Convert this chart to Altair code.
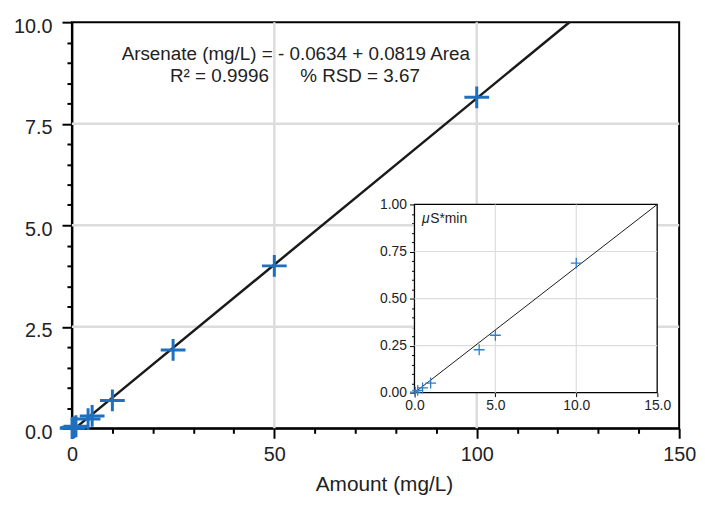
import altair as alt
import pandas as pd

# ---- data ----
amount = [0.05, 0.2, 0.5, 1.0, 4.0, 5.0, 10.0, 25.0, 50.0, 100.0]
area = [0.003, 0.012, 0.025, 0.051, 0.228, 0.305, 0.688, 1.93, 4.0, 8.15]

fit_x = [0.77, 122.9]
fit_y = [0.0, 10.0]

inset_fit_x = [0.0, 15.0]
inset_fit_y = [0.0, 1.0]

main_x_ticks = [0, 10, 20, 30, 40, 50, 60, 70, 80, 90, 100, 110, 120, 130, 140, 150]
main_y_ticks = [0.0, 0.5, 1.0, 1.5, 2.0, 2.5, 3.0, 3.5, 4.0, 4.5, 5.0, 5.5, 6.0,
                6.5, 7.0, 7.5, 8.0, 8.5, 9.0, 9.5, 10.0]
main_x_grid = [50, 100]
main_y_grid = [2.5, 5.0, 7.5]

inset_x_ticks = [0.0, 5.0, 10.0, 15.0]
inset_y_ticks = [round(i * 0.05, 2) for i in range(21)]
inset_x_grid = [5.0, 10.0]
inset_y_grid = [0.25, 0.5, 0.75]
inset_x_domain = [0.0, 15.0]
inset_y_domain = [0.0, 1.0]

eq_lines = ["Arsenate (mg/L) = - 0.0634 + 0.0819 Area",
            "R\u00b2 = 0.9996" + "\u00a0" * 6 + "% RSD = 3.67"]
eq_x = [55.3, 55.1]
eq_y = [9.066, 8.537]

FONT = "Liberation Sans"
BLUE = "#1f6fbf"

pts = pd.DataFrame({"amount": amount, "area": area})
inset_pts = pts[pts["amount"] <= 15]
fit = pd.DataFrame({"x": fit_x, "y": fit_y})
inset_fit = pd.DataFrame({"x": inset_fit_x, "y": inset_fit_y})
eq = pd.DataFrame({"x": eq_x, "y": eq_y, "t": eq_lines})

MW, MH = 613, 410
X_MAIN = alt.Scale(domain=[0, 150], nice=False, zero=False)
Y_MAIN = alt.Scale(domain=[0, 10], nice=False, zero=False)

x_axis = alt.Axis(
    values=main_x_ticks, grid=False, domainColor="black", domainWidth=2,
    tickColor="black", tickWidth=2,
    tickSize={"condition": {"test": "datum.value % 50 === 0", "value": 10}, "value": 5},
    labelExpr="datum.value % 50 === 0 ? format(datum.value, 'd') : ''",
    labelFont=FONT, labelFontSize=20, labelColor="#222", labelPadding=6,
    title="Amount (mg/L)", titleFont=FONT, titleFontSize=21, titleFontWeight="normal",
    titleColor="#222", titleX=315, titleY=46, labelFlush=False, labelOverlap=False,
)
y_axis = alt.Axis(
    values=main_y_ticks, grid=False, domainColor="black", domainWidth=2,
    tickColor="black", tickWidth=2,
    tickSize={"condition": {"test": "datum.value % 2.5 === 0", "value": 10}, "value": 5},
    labelExpr="datum.value % 2.5 === 0 ? format(datum.value, '.1f') : ''",
    labelFont=FONT, labelFontSize=20, labelColor="#222", labelPadding=10,
    labelOffset=4, title=None, labelFlush=False, labelOverlap=False,
)

base_x = alt.X("x:Q", scale=X_MAIN, axis=x_axis)
base_y = alt.Y("y:Q", scale=Y_MAIN, axis=y_axis)

vgrid = alt.Chart(pd.DataFrame({"x": main_x_grid})).mark_rule(
    color="#dcdcdc", strokeWidth=2.5).encode(x=alt.X("x:Q", scale=X_MAIN, axis=x_axis))
hgrid = alt.Chart(pd.DataFrame({"y": main_y_grid})).mark_rule(
    color="#dcdcdc", strokeWidth=2.5).encode(y=alt.Y("y:Q", scale=Y_MAIN, axis=y_axis))

fit_line = alt.Chart(fit).mark_line(color="#1a1a1a", strokeWidth=2.5).encode(
    x=base_x, y=base_y)

cross_main = "M-1,0H1M0,-0.88V0.88"
main_points = alt.Chart(pts).mark_point(
    shape=cross_main, size=625, filled=False, stroke=BLUE, strokeWidth=3, opacity=1
).encode(x=alt.X("amount:Q", scale=X_MAIN, axis=x_axis),
         y=alt.Y("area:Q", scale=Y_MAIN, axis=y_axis))

eq_text = alt.Chart(eq).mark_text(
    font=FONT, fontSize=19, color="#222", align="center", baseline="alphabetic"
).encode(x=base_x, y=base_y, text="t:N")

main = alt.layer(vgrid, hgrid, fit_line, main_points, eq_text)

# ---- inset, drawn with its own scales placed inside the main plot ----
X_IN = alt.Scale(domain=inset_x_domain, range=[345.8, 590.8], nice=False, zero=False)
Y_IN = alt.Scale(domain=inset_y_domain, range=[374, 184], nice=False, zero=False)

ix_axis = alt.Axis(
    orient="bottom", offset=-36, values=inset_x_ticks, grid=False, domain=False,
    tickColor="black", tickWidth=1, tickSize=4, format=".1f",
    labelFont=FONT, labelFontSize=14, labelColor="#222", labelPadding=2,
    title=None, labelFlush=False, labelOverlap=False,
)
iy_axis = alt.Axis(
    orient="left", offset=-345.8, values=inset_y_ticks, grid=False, domain=False,
    tickColor="black", tickWidth=1,
    tickSize={"condition": {"test": "abs(datum.value * 4 - round(datum.value * 4)) < 0.001",
                            "value": 5}, "value": 3},
    labelExpr="abs(datum.value * 4 - round(datum.value * 4)) < 0.001 ? format(datum.value, '.2f') : ''",
    labelFont=FONT, labelFontSize=14, labelColor="#222", labelPadding=3,
    title=None, labelFlush=False, labelOverlap=False,
)

frame_df = pd.DataFrame({"x": [inset_x_domain[0]], "x2": [inset_x_domain[1]],
                         "y": [inset_y_domain[0]], "y2": [inset_y_domain[1]]})
inset_bg = alt.Chart(frame_df).mark_rect(
    fill="white", stroke="black", strokeWidth=1.3
).encode(x=alt.X("x:Q", scale=X_IN, axis=ix_axis), x2="x2:Q",
         y=alt.Y("y:Q", scale=Y_IN, axis=iy_axis), y2="y2:Q")

ivgrid = alt.Chart(pd.DataFrame({"x": inset_x_grid, "y": [0.0, 0.0], "y2": [1.0, 1.0]})).mark_rule(
    color="#dddddd", strokeWidth=1.2
).encode(x=alt.X("x:Q", scale=X_IN, axis=ix_axis),
         y=alt.Y("y:Q", scale=Y_IN, axis=iy_axis), y2="y2:Q")
ihgrid = alt.Chart(pd.DataFrame({"y": inset_y_grid, "x": [0.0] * 3, "x2": [15.0] * 3})).mark_rule(
    color="#dddddd", strokeWidth=1.2
).encode(y=alt.Y("y:Q", scale=Y_IN, axis=iy_axis),
         x=alt.X("x:Q", scale=X_IN, axis=ix_axis), x2="x2:Q")

inset_line = alt.Chart(inset_fit).mark_line(color="#1a1a1a", strokeWidth=1).encode(
    x=alt.X("x:Q", scale=X_IN, axis=ix_axis), y=alt.Y("y:Q", scale=Y_IN, axis=iy_axis))

inset_points = alt.Chart(inset_pts).mark_point(
    shape="M-1,0H1M0,-1V1", size=121, filled=False, stroke="#2f7fc8", strokeWidth=1.3, opacity=1
).encode(x=alt.X("amount:Q", scale=X_IN, axis=ix_axis),
         y=alt.Y("area:Q", scale=Y_IN, axis=iy_axis))

unit_df = pd.DataFrame({"x": [0.47, 0.97], "y": [0.9, 0.9], "t": ["\u03bc", "S*min"]})
unit_mu = alt.Chart(unit_df.iloc[[0]]).mark_text(
    font=FONT, fontSize=14, fontStyle="italic", color="#222", align="left", baseline="alphabetic"
).encode(x=alt.X("x:Q", scale=X_IN, axis=ix_axis), y=alt.Y("y:Q", scale=Y_IN, axis=iy_axis),
         text="t:N")
unit_rest = alt.Chart(unit_df.iloc[[1]]).mark_text(
    font=FONT, fontSize=14, color="#222", align="left", baseline="alphabetic"
).encode(x=alt.X("x:Q", scale=X_IN, axis=ix_axis), y=alt.Y("y:Q", scale=Y_IN, axis=iy_axis),
         text="t:N")

inset = alt.layer(inset_bg, ivgrid, ihgrid, inset_line, inset_points, unit_mu, unit_rest)

chart = alt.layer(main, inset).resolve_scale(
    x="independent", y="independent"
).resolve_axis(x="independent", y="independent").properties(
    width=MW, height=MH,
    autosize=alt.AutoSizeParams(type="none"),
    padding={"left": 64.5, "top": 12, "right": 18, "bottom": 66},
    background="white",
).configure_view(stroke="black", strokeWidth=2)

chart.save("out.html", embed_options={"renderer": "svg", "actions": False})
